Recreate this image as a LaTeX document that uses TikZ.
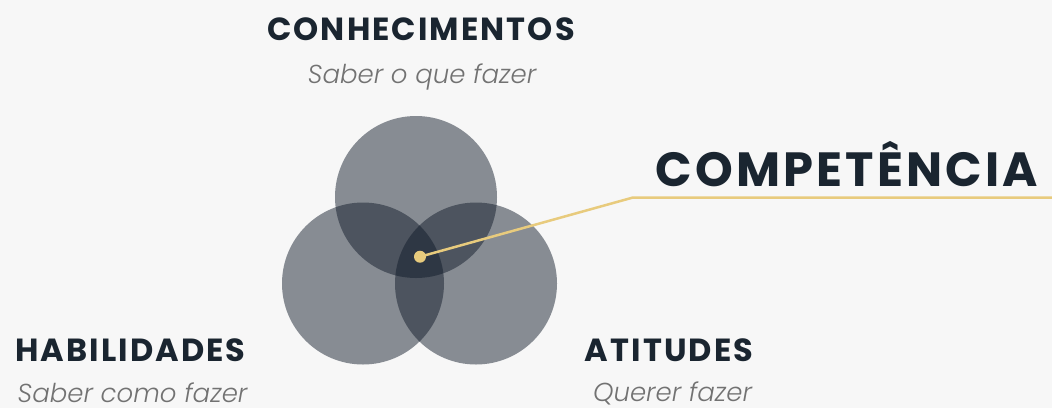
\documentclass[tikz,border=0pt]{standalone}
\usepackage{fontspec}
\setmainfont{Poppins}
\newfontfamily\titulofonte[LetterSpace=6.5]{Poppins}
\newfontfamily\subfonte{Poppins Light Italic}
\usetikzlibrary{shapes,arrows}

\definecolor{fundo}{HTML}{F7F7F7}
\definecolor{marinho}{HTML}{0E1827}
\definecolor{titulo}{HTML}{1A2530}
\definecolor{cinza}{HTML}{727272}
\definecolor{ouro}{HTML}{E8CB7D}

\tikzset{
  circulo/.style={circle, fill=marinho, fill opacity=0.48, minimum size=162pt, inner sep=0pt},
  titulo/.style={anchor=base, text=titulo, font=\fontsize{32}{32}\selectfont\titulofonte\bfseries},
  subtitulo/.style={anchor=base, text=cinza, font=\fontsize{26}{26}\selectfont\subfonte},
  ligacao/.style={draw=ouro, line width=2.5pt}
}

\begin{document}
\begin{tikzpicture}[x=1pt, y=-1pt, thick]

\fill[fundo] (0,0) rectangle (1052,408);
\useasboundingbox (0,0) rectangle (1052,408);

				\node [circulo] (conhec) at (416,197) {};
				\node [circulo] (habil) at (363,283.5) {};
				\node [circulo] (atit) at (476,283.5) {};

				\node [titulo] (tconhec) at (421,40.7) {CONHECIMENTOS};
				\node [subtitulo] (sconhec) at (422,83) {Saber o que fazer};
				\node [titulo] (thabil) at (130.5,361.7) {HABILIDADES};
				\node [subtitulo] (shabil) at (132.5,402.5) {Saber como fazer};
				\node [titulo] (tatit) at (669,361) {ATITUDES};
				\node [subtitulo] (satit) at (672.5,401.5) {Querer fazer};
				\node [titulo, font=\fontsize{48}{48}\selectfont\titulofonte\bfseries] (tcomp) at (847,186.7) {COMPETÊNCIA};

				\coordinate (dobra) at (633,197.5);
				\coordinate (fim) at (1052,197.5);
				\node [circle, fill=ouro, minimum size=12pt, inner sep=0pt] (centro) at (420,256.7) {};
				\draw [ligacao] (centro.center) -- (dobra) -- (fim);

\end{tikzpicture}
\end{document}
